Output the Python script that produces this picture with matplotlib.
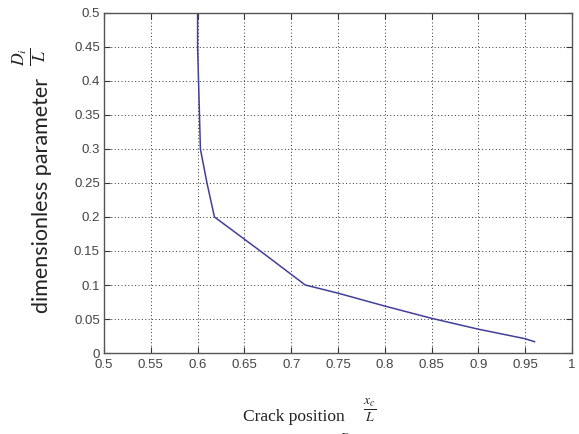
import numpy as np
import matplotlib.pyplot as plt

# crack position x_c/L vs dimensionless parameter D_i/L
crack_pos = [0.600, 0.600, 0.601, 0.602, 0.603, 0.610, 0.618, 0.667, 0.715,
             0.750, 0.800, 0.850, 0.900, 0.950, 0.960]
dim_param = [0.500, 0.450, 0.400, 0.350, 0.300, 0.250, 0.200, 0.150, 0.100,
             0.088, 0.069, 0.051, 0.035, 0.021, 0.0166]

x_ticks = [0.5, 0.55, 0.6, 0.65, 0.7, 0.75, 0.8, 0.85, 0.9, 0.95, 1]
x_ticklabels = ["0.5", "0.55", "0.6", "0.65", "0.7", "0.75", "0.8", "0.85", "0.9", "0.95", "1"]
y_ticks = [0, 0.05, 0.1, 0.15, 0.2, 0.25, 0.3, 0.35, 0.4, 0.45, 0.5]
y_ticklabels = ["0", "0.05", "0.1", "0.15", "0.2", "0.25", "0.3", "0.35", "0.4", "0.45", "0.5"]

plt.rcParams['mathtext.fontset'] = 'stix'

fig = plt.figure(figsize=(5.79, 4.34), dpi=100)
ax = fig.add_axes([104/579, 1 - 353/434, 468/579, 340/434])

ax.plot(crack_pos, dim_param, color='#40409a', linewidth=1.1)

ax.set_xlim(0.5, 1)
ax.set_ylim(0, 0.5)
ax.set_xticks(x_ticks)
ax.set_xticklabels(x_ticklabels)
ax.set_yticks(y_ticks)
ax.set_yticklabels(y_ticklabels)
ax.tick_params(direction='in', length=4, width=0.8, colors='#333333',
               labelsize=9.5, labelcolor='#444444', top=True, right=True)
ax.tick_params(axis='x', pad=4)
ax.tick_params(axis='y', pad=3)
for lab in ax.get_xticklabels() + ax.get_yticklabels():
    lab.set_family('Liberation Sans')
ax.grid(True, color='#333333', linestyle=(0, (1, 2.5)), linewidth=0.7)
for sp in ax.spines.values():
    sp.set_color('#555555')
    sp.set_linewidth(1.0)

# y label with fraction above it (rotated)
fig.text(42/579, 1 - 195/434, "dimensionless parameter", rotation=90,
         ha='center', va='center', fontsize=15.5, family='Lato', color='#222222')
fig.text(30/579, 1 - 57/434, r"$\frac{D_i}{L}$", rotation=90,
         ha='center', va='center', fontsize=18, color='#222222')

# x label with fraction
fig.text(294/579, 1 - 417/434, "Crack position", ha='center', va='center',
         fontsize=12.5, family='Liberation Serif', color='#222222')
fig.text(370/579, 1 - 410/434, r"$\frac{x_c}{L}$", ha='center', va='center',
         fontsize=14, color='#222222')
fig.text(345/579, 1 - 431.5/434, r"$D$", ha='center', va='top',
         fontsize=10, color='#222222')

fig.savefig("out.png", dpi=100)
